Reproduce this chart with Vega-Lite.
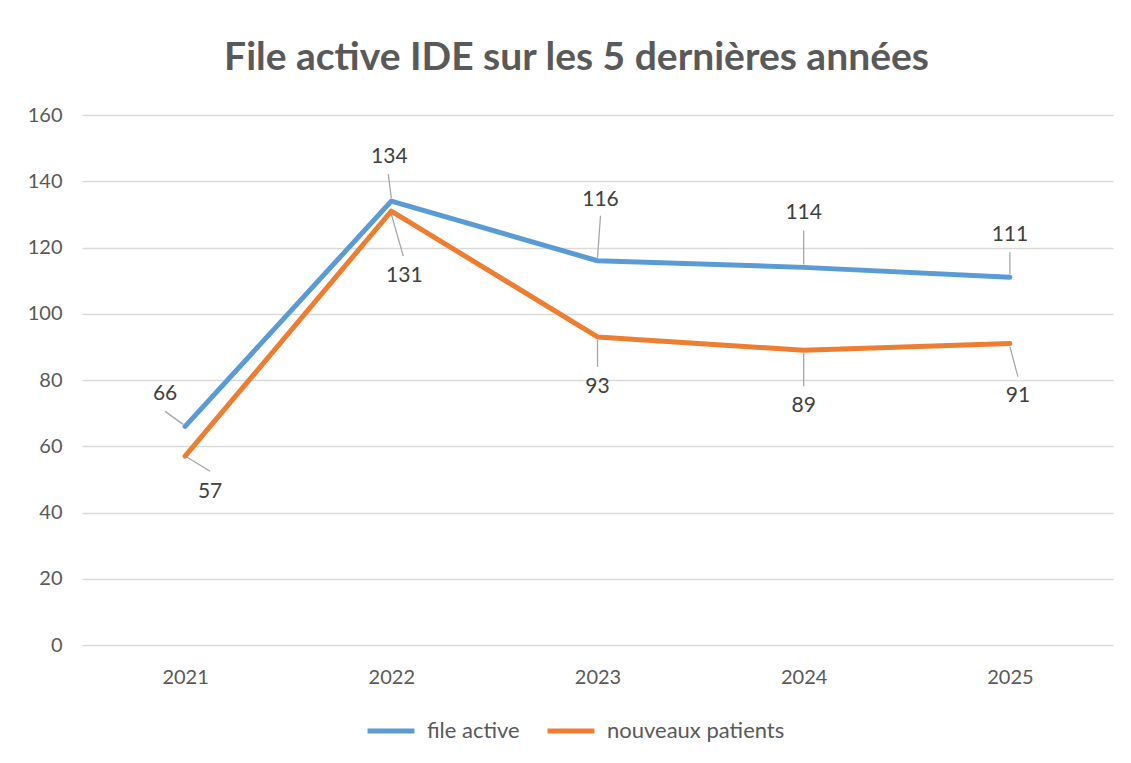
{
  "$schema": "https://vega.github.io/schema/vega-lite/v6.json",
  "width": 1031,
  "height": 530,
  "autosize": "none",
  "padding": {"left": 82, "top": 115, "right": 18, "bottom": 118},
  "background": "white",
  "config": {"view": {"stroke": null}, "font": "Lato"},
  "title": {"text": "File active IDE sur les 5 dernières années", "fontSize": 39, "fontWeight": "bold", "color": "#595959", "font": "Lato", "anchor": "middle", "offset": 27, "dx": -21},
  "data": {"values": [
    {"series": "file active", "year": "2021", "value": 66},
    {"series": "file active", "year": "2022", "value": 134},
    {"series": "file active", "year": "2023", "value": 116},
    {"series": "file active", "year": "2024", "value": 114},
    {"series": "file active", "year": "2025", "value": 111},
    {"series": "nouveaux patients", "year": "2021", "value": 57},
    {"series": "nouveaux patients", "year": "2022", "value": 131},
    {"series": "nouveaux patients", "year": "2023", "value": 93},
    {"series": "nouveaux patients", "year": "2024", "value": 89},
    {"series": "nouveaux patients", "year": "2025", "value": 91}
  ]},
  "encoding": {
    "x": {"field": "year", "type": "ordinal", "scale": {"type": "point", "padding": 0.5},
      "axis": {"title": null, "labelAngle": 0, "labelFontSize": 20, "labelColor": "#595959", "labelPadding": 22, "ticks": false, "domain": false, "grid": false}},
    "y": {"field": "value", "type": "quantitative", "scale": {"domain": [0, 160], "nice": false},
      "axis": {"title": null, "values": [0, 20, 40, 60, 80, 100, 120, 140, 160], "labelFontSize": 20, "labelColor": "#595959", "labelPadding": 20, "ticks": false, "domain": false, "gridColor": "#d9d9d9", "gridWidth": 1.3}}
  },
  "layer": [
    {"transform": [{"filter": "datum.series=='file active' && datum.year=='2021'"}], "mark": {"type": "rule", "color": "#a6a6a6", "strokeWidth": 1.3, "xOffset": -2, "yOffset": -2, "x2Offset": -20, "y2Offset": -15}, "encoding": {"x2": {"field": "year"}, "y2": {"field": "value"}}},
    {"transform": [{"filter": "datum.series=='file active' && datum.year=='2022'"}], "mark": {"type": "rule", "color": "#a6a6a6", "strokeWidth": 1.3, "xOffset": 0, "yOffset": -3, "x2Offset": -3, "y2Offset": -27}, "encoding": {"x2": {"field": "year"}, "y2": {"field": "value"}}},
    {"transform": [{"filter": "datum.series=='file active' && datum.year=='2023'"}], "mark": {"type": "rule", "color": "#a6a6a6", "strokeWidth": 1.3, "xOffset": 0, "yOffset": -3, "x2Offset": 3, "y2Offset": -45}, "encoding": {"x2": {"field": "year"}, "y2": {"field": "value"}}},
    {"transform": [{"filter": "datum.series=='file active' && datum.year=='2024'"}], "mark": {"type": "rule", "color": "#a6a6a6", "strokeWidth": 1.3, "xOffset": 0, "yOffset": -3, "x2Offset": 0, "y2Offset": -37}, "encoding": {"x2": {"field": "year"}, "y2": {"field": "value"}}},
    {"transform": [{"filter": "datum.series=='file active' && datum.year=='2025'"}], "mark": {"type": "rule", "color": "#a6a6a6", "strokeWidth": 1.3, "xOffset": 0, "yOffset": -3, "x2Offset": 0, "y2Offset": -25}, "encoding": {"x2": {"field": "year"}, "y2": {"field": "value"}}},
    {"transform": [{"filter": "datum.series=='nouveaux patients' && datum.year=='2021'"}], "mark": {"type": "rule", "color": "#a6a6a6", "strokeWidth": 1.3, "xOffset": 2, "yOffset": 1, "x2Offset": 25, "y2Offset": 15}, "encoding": {"x2": {"field": "year"}, "y2": {"field": "value"}}},
    {"transform": [{"filter": "datum.series=='nouveaux patients' && datum.year=='2022'"}], "mark": {"type": "rule", "color": "#a6a6a6", "strokeWidth": 1.3, "xOffset": 0, "yOffset": 3, "x2Offset": 12, "y2Offset": 45}, "encoding": {"x2": {"field": "year"}, "y2": {"field": "value"}}},
    {"transform": [{"filter": "datum.series=='nouveaux patients' && datum.year=='2023'"}], "mark": {"type": "rule", "color": "#a6a6a6", "strokeWidth": 1.3, "xOffset": 0, "yOffset": 3, "x2Offset": 0, "y2Offset": 30}, "encoding": {"x2": {"field": "year"}, "y2": {"field": "value"}}},
    {"transform": [{"filter": "datum.series=='nouveaux patients' && datum.year=='2024'"}], "mark": {"type": "rule", "color": "#a6a6a6", "strokeWidth": 1.3, "xOffset": 0, "yOffset": 3, "x2Offset": 0, "y2Offset": 36}, "encoding": {"x2": {"field": "year"}, "y2": {"field": "value"}}},
    {"transform": [{"filter": "datum.series=='nouveaux patients' && datum.year=='2025'"}], "mark": {"type": "rule", "color": "#a6a6a6", "strokeWidth": 1.3, "xOffset": 0, "yOffset": 3, "x2Offset": 8, "y2Offset": 33}, "encoding": {"x2": {"field": "year"}, "y2": {"field": "value"}}},
    {
      "mark": {"type": "line", "strokeWidth": 5, "strokeCap": "round", "strokeJoin": "round"},
      "encoding": {
        "color": {"field": "series", "type": "nominal",
          "scale": {"domain": ["file active", "nouveaux patients"], "range": ["#5B9BD5", "#ED7D31"]},
          "legend": {"title": null, "orient": "none", "direction": "horizontal", "legendX": 283, "legendY": 590, "symbolType": "stroke", "symbolStrokeWidth": 5, "symbolSize": 2200, "labelFontSize": 22, "labelColor": "#595959", "labelOffset": 10, "columnPadding": 17, "labelLimit": 400}
        }
      }
    },
    {"transform": [{"filter": "datum.series=='file active' && datum.year=='2021'"}], "mark": {"type": "text", "fontSize": 21, "color": "#404040", "baseline": "middle", "dx": -20, "dy": -32}, "encoding": {"text": {"field": "value"}}},
    {"transform": [{"filter": "datum.series=='file active' && datum.year=='2022'"}], "mark": {"type": "text", "fontSize": 21, "color": "#404040", "baseline": "middle", "dx": -2, "dy": -44}, "encoding": {"text": {"field": "value"}}},
    {"transform": [{"filter": "datum.series=='file active' && datum.year=='2023'"}], "mark": {"type": "text", "fontSize": 21, "color": "#404040", "baseline": "middle", "dx": 3, "dy": -61}, "encoding": {"text": {"field": "value"}}},
    {"transform": [{"filter": "datum.series=='file active' && datum.year=='2024'"}], "mark": {"type": "text", "fontSize": 21, "color": "#404040", "baseline": "middle", "dx": 0, "dy": -54}, "encoding": {"text": {"field": "value"}}},
    {"transform": [{"filter": "datum.series=='file active' && datum.year=='2025'"}], "mark": {"type": "text", "fontSize": 21, "color": "#404040", "baseline": "middle", "dx": 0, "dy": -42}, "encoding": {"text": {"field": "value"}}},
    {"transform": [{"filter": "datum.series=='nouveaux patients' && datum.year=='2021'"}], "mark": {"type": "text", "fontSize": 21, "color": "#404040", "baseline": "middle", "dx": 25, "dy": 36}, "encoding": {"text": {"field": "value"}}},
    {"transform": [{"filter": "datum.series=='nouveaux patients' && datum.year=='2022'"}], "mark": {"type": "text", "fontSize": 21, "color": "#404040", "baseline": "middle", "dx": 13, "dy": 65}, "encoding": {"text": {"field": "value"}}},
    {"transform": [{"filter": "datum.series=='nouveaux patients' && datum.year=='2023'"}], "mark": {"type": "text", "fontSize": 21, "color": "#404040", "baseline": "middle", "dx": 0, "dy": 50}, "encoding": {"text": {"field": "value"}}},
    {"transform": [{"filter": "datum.series=='nouveaux patients' && datum.year=='2024'"}], "mark": {"type": "text", "fontSize": 21, "color": "#404040", "baseline": "middle", "dx": 0, "dy": 56}, "encoding": {"text": {"field": "value"}}},
    {"transform": [{"filter": "datum.series=='nouveaux patients' && datum.year=='2025'"}], "mark": {"type": "text", "fontSize": 21, "color": "#404040", "baseline": "middle", "dx": 8, "dy": 52}, "encoding": {"text": {"field": "value"}}}
  ]
}
